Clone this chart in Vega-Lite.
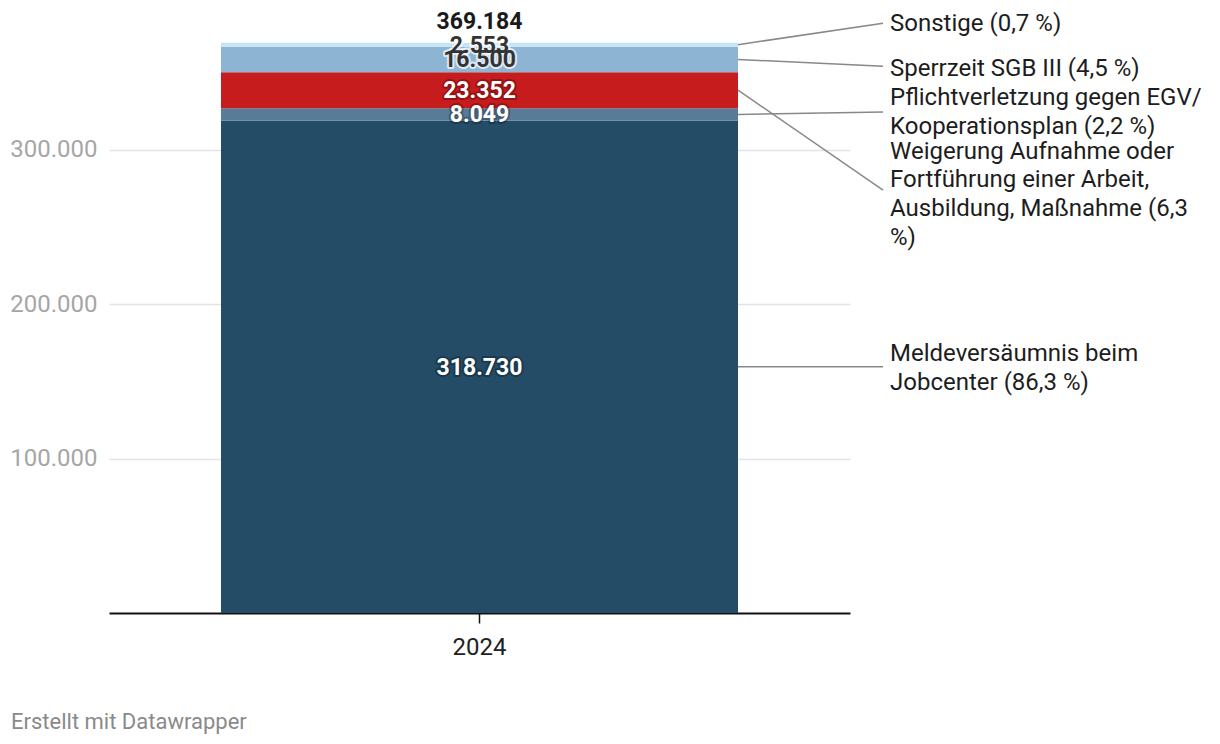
{
  "$schema": "https://vega.github.io/schema/vega-lite/v6.json",
  "width": 741,
  "height": 587,
  "autosize": {"type": "none"},
  "padding": {"left": 109, "top": 26, "right": 370, "bottom": 131},
  "background": "#ffffff",
  "title": {"text": "Erstellt mit Datawrapper", "orient": "bottom", "anchor": "start", "frame": "group", "dx": -98, "offset": 53, "baseline": "top", "fontSize": 22, "fontWeight": "normal", "color": "#8a8a8a", "font": "Roboto"},
  "config": {
    "locale": {"number": {"decimal": ",", "thousands": ".", "grouping": [3], "currency": ["", " €"]}},
    "font": "Roboto",
    "view": {"stroke": null},
    "text": {"font": "Roboto"}
  },
  "data": {
    "values": [
      {"year": "2024", "category": "Meldeversäumnis beim Jobcenter", "value": 318730, "order": 1, "label": ["Meldeversäumnis beim", "Jobcenter (86,3 %)"]},
      {"year": "2024", "category": "Pflichtverletzung gegen EGV/Kooperationsplan", "value": 8049, "order": 2, "label": ["Pflichtverletzung gegen EGV/", "Kooperationsplan (2,2 %)"]},
      {"year": "2024", "category": "Weigerung Aufnahme oder Fortführung einer Arbeit, Ausbildung, Maßnahme", "value": 23352, "order": 3, "label": ["Weigerung Aufnahme oder", "Fortführung einer Arbeit,", "Ausbildung, Maßnahme (6,3", "%)"]},
      {"year": "2024", "category": "Sperrzeit SGB III", "value": 16500, "order": 4, "label": ["Sperrzeit SGB III (4,5 %)"]},
      {"year": "2024", "category": "Sonstige", "value": 2553, "order": 5, "label": ["Sonstige (0,7 %)"]}
    ]
  },
  "transform": [
    {"stack": "value", "groupby": ["year"], "sort": [{"field": "order", "order": "ascending"}], "as": ["v0", "v1"]},
    {"calculate": "(datum.v0 + datum.v1) / 2", "as": "mid"}
  ],
  "layer": [
    {
      "mark": {"type": "bar"},
      "encoding": {
        "x": {
          "field": "year", "type": "nominal", "title": null,
          "scale": {"paddingInner": 0, "paddingOuter": 0.2166},
          "axis": {
            "labelAngle": 0, "labelFontSize": 24, "labelColor": "#222222", "labelFont": "Roboto", "labelPadding": 12,
            "domainColor": "#111111", "domainWidth": 2, "tickColor": "#111111", "tickSize": 10, "tickWidth": 1.5, "title": null
          }
        },
        "y": {
          "field": "v0", "type": "quantitative", "title": null,
          "scale": {"domain": [0, 380000], "nice": false},
          "axis": {
            "values": [100000, 200000, 300000], "format": ",d", "domain": false, "ticks": false,
            "labelFontSize": 24, "labelColor": "#a6a6a6", "labelFont": "Roboto", "labelPadding": 12,
            "gridColor": "#e3e3e3", "gridWidth": 1.5, "title": null
          }
        },
        "y2": {"field": "v1"},
        "color": {
          "field": "category", "type": "nominal", "legend": null,
          "scale": {
            "domain": ["Meldeversäumnis beim Jobcenter", "Pflichtverletzung gegen EGV/Kooperationsplan", "Weigerung Aufnahme oder Fortführung einer Arbeit, Ausbildung, Maßnahme", "Sperrzeit SGB III", "Sonstige"],
            "range": ["#254c66", "#587c97", "#c71c1d", "#8eb4d4", "#c5e5f7"]
          }
        }
      }
    },
    {
      "mark": {"type": "text", "fontSize": 23, "fontWeight": "bold", "baseline": "middle", "align": "center", "dy": 1, "strokeWidth": 4, "strokeJoin": "round"},
      "encoding": {
        "x": {"field": "year", "type": "nominal", "title": null},
        "y": {"field": "mid", "type": "quantitative", "title": null},
        "text": {"field": "value", "type": "quantitative", "format": ",d"},
        "color": {"condition": {"test": "datum.order >= 4", "value": "#ffffff"}, "value": "#000000"},
        "stroke": {"condition": {"test": "datum.order >= 4", "value": "#ffffff"}, "value": "#000000"},
        "opacity": {"condition": {"test": "datum.order >= 4", "value": 0.7}, "value": 0.25}
      }
    },
    {
      "mark": {"type": "text", "fontSize": 23, "fontWeight": "bold", "baseline": "middle", "align": "center", "dy": 1},
      "encoding": {
        "x": {"field": "year", "type": "nominal", "title": null},
        "y": {"field": "mid", "type": "quantitative", "title": null},
        "text": {"field": "value", "type": "quantitative", "format": ",d"},
        "color": {"condition": {"test": "datum.order >= 4", "value": "#333333"}, "value": "#ffffff"}
      }
    },
    {
      "transform": [{"aggregate": [{"op": "sum", "field": "value", "as": "total"}], "groupby": ["year"]}],
      "mark": {"type": "text", "fontSize": 23, "fontWeight": "bold", "baseline": "middle", "align": "center", "dy": -21, "color": "#1a1a1a"},
      "encoding": {
        "x": {"field": "year", "type": "nominal", "title": null},
        "y": {"field": "total", "type": "quantitative", "title": null},
        "text": {"field": "total", "type": "quantitative", "format": ",d"}
      }
    },
    {
      "transform": [{"filter": "datum.order == 5"}],
      "layer": [
        {"mark": {"type": "rule", "color": "#888888", "strokeWidth": 1.5},
         "encoding": {"x": {"field": "year", "type": "nominal", "bandPosition": 1, "title": null}, "x2": {"field": "year", "bandPosition": 1.2805}, "y": {"field": "mid", "type": "quantitative", "title": null}, "y2": {"datum": 381800}}},
        {"mark": {"type": "text", "align": "left", "baseline": "middle", "dx": 152, "fontSize": 24, "color": "#1d1d1d", "lineHeight": 28.8},
         "encoding": {"x": {"field": "year", "type": "nominal", "bandPosition": 1, "title": null}, "y": {"datum": 381000, "type": "quantitative", "title": null}, "text": {"field": "label"}}}
      ]
    },
    {
      "transform": [{"filter": "datum.order == 4"}],
      "layer": [
        {"mark": {"type": "rule", "color": "#888888", "strokeWidth": 1.5},
         "encoding": {"x": {"field": "year", "type": "nominal", "bandPosition": 1, "title": null}, "x2": {"field": "year", "bandPosition": 1.2805}, "y": {"field": "mid", "type": "quantitative", "title": null}, "y2": {"datum": 353900}}},
        {"mark": {"type": "text", "align": "left", "baseline": "middle", "dx": 152, "fontSize": 24, "color": "#1d1d1d", "lineHeight": 28.8},
         "encoding": {"x": {"field": "year", "type": "nominal", "bandPosition": 1, "title": null}, "y": {"datum": 352200, "type": "quantitative", "title": null}, "text": {"field": "label"}}}
      ]
    },
    {
      "transform": [{"filter": "datum.order == 2"}],
      "layer": [
        {"mark": {"type": "rule", "color": "#888888", "strokeWidth": 1.5},
         "encoding": {"x": {"field": "year", "type": "nominal", "bandPosition": 1, "title": null}, "x2": {"field": "year", "bandPosition": 1.2805}, "y": {"field": "mid", "type": "quantitative", "title": null}, "y2": {"datum": 324300}}},
        {"mark": {"type": "text", "align": "left", "baseline": "middle", "dx": 152, "fontSize": 24, "color": "#1d1d1d", "lineHeight": 29},
         "encoding": {"x": {"field": "year", "type": "nominal", "bandPosition": 1, "title": null}, "y": {"datum": 333400, "type": "quantitative", "title": null}, "text": {"field": "label"}}}
      ]
    },
    {
      "transform": [{"filter": "datum.order == 3"}],
      "layer": [
        {"mark": {"type": "rule", "color": "#888888", "strokeWidth": 1.5},
         "encoding": {"x": {"field": "year", "type": "nominal", "bandPosition": 1, "title": null}, "x2": {"field": "year", "bandPosition": 1.2805}, "y": {"field": "mid", "type": "quantitative", "title": null}, "y2": {"datum": 273800}}},
        {"mark": {"type": "text", "align": "left", "baseline": "middle", "dx": 152, "fontSize": 24, "color": "#1d1d1d", "lineHeight": 28.6},
         "encoding": {"x": {"field": "year", "type": "nominal", "bandPosition": 1, "title": null}, "y": {"datum": 298500, "type": "quantitative", "title": null}, "text": {"field": "label"}}}
      ]
    },
    {
      "transform": [{"filter": "datum.order == 1"}],
      "layer": [
        {"mark": {"type": "rule", "color": "#888888", "strokeWidth": 1.5},
         "encoding": {"x": {"field": "year", "type": "nominal", "bandPosition": 1, "title": null}, "x2": {"field": "year", "bandPosition": 1.2805}, "y": {"field": "mid", "type": "quantitative", "title": null}, "y2": {"field": "mid"}}},
        {"mark": {"type": "text", "align": "left", "baseline": "middle", "dx": 152, "fontSize": 24, "color": "#1d1d1d", "lineHeight": 28.8},
         "encoding": {"x": {"field": "year", "type": "nominal", "bandPosition": 1, "title": null}, "y": {"datum": 167500, "type": "quantitative", "title": null}, "text": {"field": "label"}}}
      ]
    }
  ]
}
